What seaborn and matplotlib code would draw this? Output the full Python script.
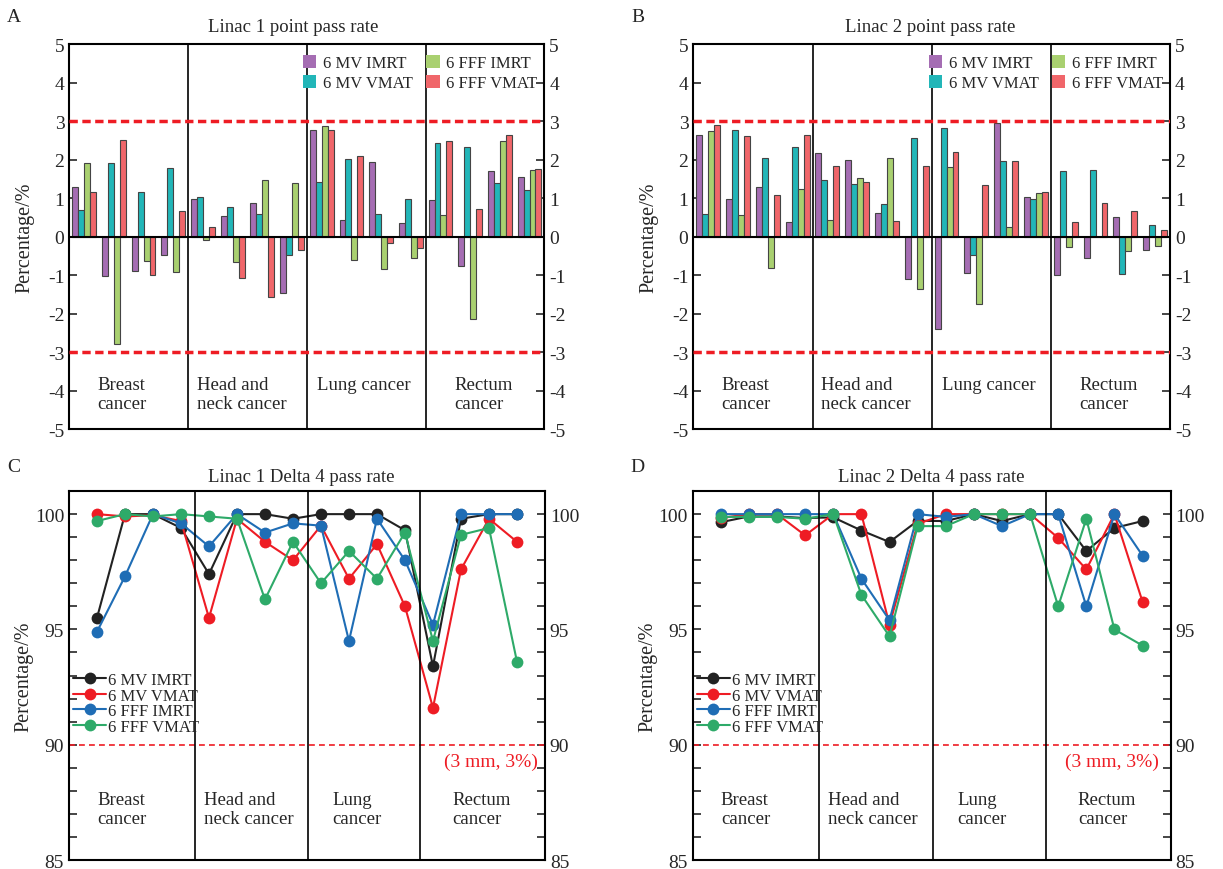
import numpy as np
import pandas as pd
import seaborn as sns
import matplotlib.pyplot as plt
from matplotlib.patches import Patch
from matplotlib.lines import Line2D

sns.set_style('ticks')
plt.rcParams['font.family'] = ['Liberation Serif', 'DejaVu Serif']
plt.rcParams['axes.unicode_minus'] = False

# Techniques (hue order) and cancer groups
techs = ['6 MV IMRT', '6 MV VMAT', '6 FFF IMRT', '6 FFF VMAT']
groups_bar = ['Breast\ncancer', 'Head and\nneck cancer', 'Lung cancer', 'Rectum\ncancer']
groups_line = ['Breast\ncancer', 'Head and\nneck cancer', 'Lung\ncancer', 'Rectum\ncancer']

# Linac 1 point dose deviation (%), 16 plans: 4 breast, 4 head/neck, 4 lung, 4 rectum
l1_mv_imrt = [1.30, -1.03, -0.90, -0.47, 0.98, 0.53, 0.86, -1.47, 2.78, 0.43, 1.94, 0.35, 0.94, -0.76, 1.70, 1.55]
l1_mv_vmat = [0.68, 1.91, 1.15, 1.78, 1.04, 0.78, 0.58, -0.47, 1.43, 2.01, 0.58, 0.97, 2.42, 2.32, 1.39, 1.20]
l1_fff_imrt = [1.92, -2.80, -0.64, -0.91, -0.09, -0.66, 1.46, 1.38, 2.87, -0.62, -0.84, -0.55, 0.55, -2.13, 2.48, 1.74]
l1_fff_vmat = [1.17, 2.50, -0.99, 0.66, 0.26, -1.08, -1.58, -0.34, 2.77, 2.08, -0.17, -0.30, 2.47, 0.72, 2.64, 1.75]

# Linac 2 point dose deviation (%)
l2_mv_imrt = [2.65, 0.97, 1.29, 0.39, 2.16, 1.99, 0.62, -1.10, -2.39, -0.94, 2.96, 1.02, -1.00, -0.57, 0.50, -0.34]
l2_mv_vmat = [0.59, 2.78, 2.03, 2.32, 1.47, 1.36, 0.85, 2.55, 2.81, -0.48, 1.97, 0.97, 1.71, 1.74, -0.96, 0.29]
l2_fff_imrt = [2.75, 0.56, -0.82, 1.23, 0.42, 1.53, 2.03, -1.36, 1.80, -1.76, 0.26, 1.14, -0.27, 0.0, -0.38, -0.25]
l2_fff_vmat = [2.89, 2.62, 1.08, 2.64, 1.84, 1.41, 0.41, 1.84, 2.19, 1.33, 1.97, 1.16, 0.39, 0.87, 0.66, 0.17]

# Linac 1 Delta4 gamma pass rate (%)
d1_mv_imrt = [95.5, 100, 100, 99.4, 97.4, 100, 100, 99.8, 100, 100, 100, 99.3, 93.4, 99.8, 100, 100]
d1_mv_vmat = [100, 99.9, 99.95, 99.7, 95.5, 99.8, 98.8, 98.0, 99.5, 97.2, 98.7, 96.0, 91.6, 97.6, 99.8, 98.8]
d1_fff_imrt = [94.9, 97.3, 100, 99.6, 98.6, 100, 99.2, 99.6, 99.5, 94.5, 99.8, 98.0, 95.2, 100, 100, 100]
d1_fff_vmat = [99.7, 100, 99.9, 100, 99.9, 99.8, 96.3, 98.8, 97.0, 98.4, 97.2, 99.2, 94.5, 99.1, 99.4, 93.6]

# Linac 2 Delta4 gamma pass rate (%)
d2_mv_imrt = [99.65, 99.9, 99.9, 99.83, 99.86, 99.29, 98.79, 99.71, 99.7, 100, 99.7, 100, 100, 98.4, 99.4, 99.7]
d2_mv_vmat = [99.83, 100, 100, 99.08, 100, 100, 95.2, 99.58, 100, 100, 100, 100, 98.97, 97.6, 100, 96.2]
d2_fff_imrt = [100, 100, 100, 100, 100, 97.2, 95.4, 100, 99.88, 100, 99.48, 100, 100, 96.0, 100, 98.2]
d2_fff_vmat = [99.88, 99.88, 99.88, 99.8, 100, 96.5, 94.7, 99.48, 99.48, 100, 100, 100, 96.0, 99.8, 95.0, 94.3]

bar_colors = ['#a56db3', '#22b6b8', '#a9d070', '#f0666a']
line_colors = ['#222222', '#ee1c24', '#1f6db5', '#2eaa69']


def long_table(series):
    rows = []
    for tech, vals in zip(techs, series):
        for i, v in enumerate(vals):
            rows.append({'case': i + 1, 'tech': tech, 'value': v})
    return pd.DataFrame(rows)


def style_y(ax):
    ax.tick_params(axis='y', which='both', direction='in', left=True, right=True,
                   labelleft=True, labelright=True, labelsize=14, length=6, width=1.2)
    ax.set_xticks([])
    ax.set_xlabel('')
    for s in ax.spines.values():
        s.set_linewidth(1.5)
        s.set_color('black')


def draw_bars(ax, series, title, letter, tx):
    df = long_table(series)
    sns.barplot(data=df, x='case', y='value', hue='tech', hue_order=techs,
                palette=bar_colors, width=0.8, edgecolor='#444444', linewidth=0.8,
                saturation=1, ax=ax)
    ax.set_xlim(-0.5, 15.5)
    ax.set_ylim(-5, 5)
    ax.set_yticks(range(-5, 6))
    ax.axhline(0, color='black', lw=1.5, zorder=3)
    for y in (3, -3):
        ax.axhline(y, color='#ee1c24', lw=2.5, ls=(0, (2.4, 1.3)), zorder=4)
    for x in (3.5, 7.5, 11.5):
        ax.axvline(x, color='black', lw=1.2)
    for frac, g in zip([0.059, 0.268, 0.522, 0.81], groups_bar):
        ax.text(frac, -3.62, g, transform=ax.get_yaxis_transform(), ha='left', va='top',
                fontsize=13.5, linespacing=1.15)
    style_y(ax)
    ax.set_ylabel('Percentage/%', fontsize=14.5)
    ax.yaxis.set_label_coords(-0.074, 0.5)
    handles = [Patch(facecolor=c, edgecolor='none') for c in bar_colors]
    ax.legend(handles, techs, loc='upper right', bbox_to_anchor=(1.008, 1.0), ncol=2,
              frameon=False, fontsize=12, handlelength=0.8, handleheight=0.8,
              handletextpad=0.4, columnspacing=0.8, labelspacing=0.25, borderaxespad=0.25)
    fig.text(tx, 1 - 27 / 870, title, ha='center', va='center', fontsize=13.5)
    fig.text(ax.get_position().x0 - 55 / 1223, 1 - 17 / 870, letter, ha='center', va='center', fontsize=14)


def draw_lines(ax, series, title, letter, tx, note_x):
    df = long_table(series)
    sns.lineplot(data=df, x='case', y='value', hue='tech', hue_order=techs,
                 palette=line_colors, marker='o', markersize=8.5, markeredgewidth=0,
                 linewidth=1.5, legend=False, ax=ax)
    ax.set_xlim(0, 17)
    ax.set_ylim(85, 101)
    ticks = list(range(85, 101))
    ax.set_yticks(ticks)
    ax.set_yticklabels([str(t) if t % 5 == 0 else '' for t in ticks])
    ax.axhline(90, color='#ee1c24', lw=1.2, ls=(0, (3.5, 2.5)))
    for x in (4.5, 8.55, 12.55):
        ax.axvline(x, color='black', lw=1.2)
    for frac, g in zip([0.059, 0.284, 0.553, 0.806], groups_line):
        ax.text(frac, 88.0, g, transform=ax.get_yaxis_transform(), ha='left', va='top',
                fontsize=13.5, linespacing=1.15)
    ax.text(note_x, 89.3, '(3 mm, 3%)', transform=ax.get_yaxis_transform(), ha='right',
            va='center', color='#ee1c24', fontsize=14)
    style_y(ax)
    ax.set_ylabel('Percentage/%', fontsize=14.5)
    ax.yaxis.set_label_coords(-0.074, 0.5)
    handles = [Line2D([], [], color=c, lw=1.5, marker='o', markersize=8.5, markeredgewidth=0)
               for c in line_colors]
    ax.legend(handles, techs, loc='lower left', bbox_to_anchor=(0.005, 0.335), frameon=False,
              fontsize=12, handlelength=2.0, handletextpad=0.1, labelspacing=-0.03,
              borderaxespad=0.0, borderpad=0.1)
    fig.text(tx, 1 - 478 / 870, title, ha='center', va='center', fontsize=13.5)
    fig.text(ax.get_position().x0 - 55 / 1223, 1 - 468 / 870, letter, ha='center', va='center', fontsize=14)


fig = plt.figure(figsize=(12.23, 8.70), dpi=100)
ax_a = fig.add_axes([0.0567, 0.5057, 0.3884, 0.4425])
ax_b = fig.add_axes([0.5669, 0.5057, 0.3898, 0.4425])
ax_c = fig.add_axes([0.0564, 0.0103, 0.3892, 0.4241])
ax_d = fig.add_axes([0.5664, 0.0103, 0.3908, 0.4241])

draw_bars(ax_a, [l1_mv_imrt, l1_mv_vmat, l1_fff_imrt, l1_fff_vmat],
          'Linac 1 point pass rate', 'A', 293 / 1223)
draw_bars(ax_b, [l2_mv_imrt, l2_mv_vmat, l2_fff_imrt, l2_fff_vmat],
          'Linac 2 point pass rate', 'B', 930 / 1223)
draw_lines(ax_c, [d1_mv_imrt, d1_mv_vmat, d1_fff_imrt, d1_fff_vmat],
           'Linac 1 Delta 4 pass rate', 'C', 301 / 1223, 0.985)
draw_lines(ax_d, [d2_mv_imrt, d2_mv_vmat, d2_fff_imrt, d2_fff_vmat],
           'Linac 2 Delta 4 pass rate', 'D', 931 / 1223, 0.975)

fig.savefig('out.png', dpi=100)
